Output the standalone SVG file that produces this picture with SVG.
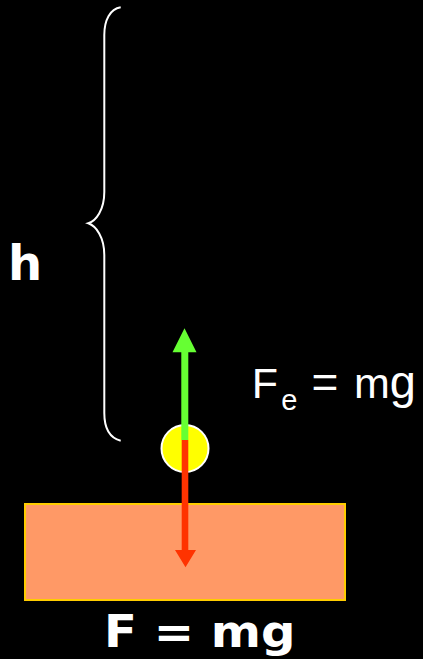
<svg xmlns="http://www.w3.org/2000/svg" width="423" height="659" viewBox="0 0 423 659">
<style>
.bold{font-family:"DejaVu Sans",Verdana,sans-serif;font-weight:bold;fill:#FFFFFF}
.reg{font-family:"Liberation Sans",Arial,sans-serif;fill:#FFFFFF}
.brace{fill:none;stroke:#FFFFFF;stroke-width:2}
</style>
<rect x="0" y="0" width="423" height="659" fill="#000000"/>
<g id="brace">
<path class="brace" d="M120.7,7.3 C110,9 104.3,20 104.3,35 L104.3,192 C104.3,210 96,221 88.3,223.3 C96,226 104.3,237 104.3,255 L104.3,413 C104.3,428 110,438 120.7,440.7"/>
</g>
<g id="label-h">
<text class="bold" x="8" y="279.5" font-size="48">h</text>
</g>
<g id="ground">
<rect x="25" y="504" width="320" height="96" fill="#FF9966" stroke="#FFCC00" stroke-width="2"/>
</g>
<g id="ball">
<circle cx="185" cy="448.5" r="23.5" fill="#FFFF00" stroke="#FFFFFF" stroke-width="2"/>
</g>
<g id="connectors">
<path d="M181.3,440 L181.3,352.3 L172.5,352.3 L184.5,328.3 L196.5,352.3 L188.3,352.3 L188.3,440 Z" fill="#66FF33"/>
<path d="M181.7,440 L181.7,550 L175,550 L185.5,567.3 L196,550 L188.3,550 L188.3,440 Z" fill="#FF3300"/>
</g>
<g id="label-fe">
<text class="reg" font-size="43"><tspan x="251.8" y="398">F</tspan><tspan x="281.2" y="409.5" font-size="29">e</tspan><tspan x="311.5" y="398" font-size="46">=</tspan><tspan x="353.9" y="398">m</tspan><tspan x="389.8" y="398" font-size="47">g</tspan></text>
</g>
<g id="label-f">
<text class="bold" x="104" y="646.7" font-size="45" textLength="191.5" lengthAdjust="spacingAndGlyphs">F = mg</text>
</g>
</svg>
